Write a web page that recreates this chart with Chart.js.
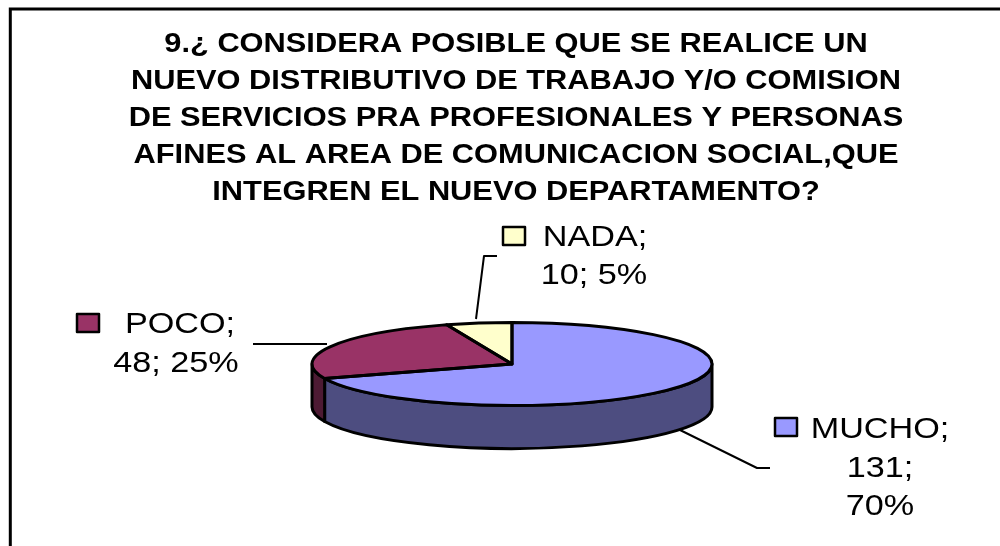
<!DOCTYPE html>
<html><head><meta charset="utf-8">
<style>html,body{margin:0;padding:0;background:#fff;overflow:hidden}canvas{display:block}</style>
<script src="https://cdn.jsdelivr.net/npm/chart.js@4"></script></head>
<body><div style="width:1000px;height:546px"><canvas id="c" width="1000" height="546"></canvas></div>
<script>
const titleLines = ["9.¿ CONSIDERA POSIBLE QUE SE REALICE UN","NUEVO DISTRIBUTIVO DE TRABAJO Y/O COMISION","DE SERVICIOS PRA PROFESIONALES Y PERSONAS","AFINES AL AREA DE COMUNICACION SOCIAL,QUE","INTEGREN EL NUEVO DEPARTAMENTO?"];
const categories = ["MUCHO","POCO","NADA"];
const values = [131,48,10];
const percents = [70,25,5];
const colors = ["#9999FF","#993366","#FFFFCC"];
const sideColors = ["#4D4D80","#4D1A33","#808066"];

const PIE = {cx:512, cy:364, rx:200, ry:41.5, depth:43};
const TITLE_SX = 1.12, LABEL_SX = 1.14;
const labelLayout = [
  {box:[775,418], lines:[[`${categories[0]};`,880,438],[`${values[0]};`,880,477],[`${percents[0]}%`,880,515]], leader:[[680,430],[757,468],[770,468]]},
  {box:[77,314], lines:[[`${categories[1]};`,180,333],[`${values[1]}; ${percents[1]}%`,176,372]], leader:[[253,344],[327,344]]},
  {box:[503,227], lines:[[`${categories[2]};`,595,246],[`${values[2]}; ${percents[2]}%`,594,284]], leader:[[497,256],[484,256],[476,319]]}
];

const pie3d = {
  id:'pie3d',
  beforeDraw(chart){
    const c = chart.ctx;
    c.save();
    c.fillStyle='#fff'; c.fillRect(0,0,1000,546);
    c.strokeStyle='#000'; c.lineWidth=3;
    c.beginPath(); c.moveTo(10.3,546); c.lineTo(10.3,9); c.lineTo(1000,9); c.stroke();
    c.restore();
    c.save();
    c.translate(516-500*TITLE_SX,0); c.scale(TITLE_SX,1);
  },
  beforeDatasetsDraw(chart){
    const c = chart.ctx;
    c.restore();
    const arcs = chart.getDatasetMeta(0).data;
    const {cx,cy,rx,ry,depth} = PIE;
    c.save();
    c.lineWidth=3; c.strokeStyle='#000'; c.lineJoin='round';
    arcs.forEach((a,i)=>{
      const s = Math.max(a.startAngle,0), e = Math.min(a.endAngle,Math.PI);
      if(e<=s) return;
      c.beginPath();
      c.ellipse(cx,cy,rx,ry,0,s,e);
      c.ellipse(cx,cy+depth,rx,ry,0,e,s,true);
      c.closePath();
      c.fillStyle=sideColors[i];
      c.fill(); c.stroke();
    });
    c.restore();
    const a0 = arcs[0];
    c.save();
    c.translate(cx,cy); c.scale(rx/a0.outerRadius,ry/a0.outerRadius); c.translate(-a0.x,-a0.y);
  },
  afterDatasetsDraw(chart){
    const c = chart.ctx;
    c.restore();
    const arcs = chart.getDatasetMeta(0).data;
    const {cx,cy,rx,ry} = PIE;
    c.save();
    c.lineWidth=3; c.strokeStyle='#000'; c.lineJoin='round';
    arcs.forEach(a=>{
      c.beginPath(); c.moveTo(cx,cy);
      c.ellipse(cx,cy,rx,ry,0,a.startAngle,a.endAngle);
      c.closePath(); c.stroke();
    });
    labelLayout.forEach((L,i)=>{
      c.lineWidth=2; c.strokeStyle='#000';
      c.beginPath();
      L.leader.forEach((p,k)=>k?c.lineTo(p[0],p[1]):c.moveTo(p[0],p[1]));
      c.stroke();
      c.fillStyle=colors[i]; c.lineWidth=2.5;
      c.fillRect(L.box[0],L.box[1],22,18); c.strokeRect(L.box[0],L.box[1],22,18);
      c.fillStyle='#000'; c.font='30px "Liberation Sans"'; c.textAlign='center'; c.textBaseline='alphabetic';
      L.lines.forEach(([t,x,y])=>{
        c.save(); c.translate(x,y); c.scale(LABEL_SX,1); c.fillText(t,0,0); c.restore();
      });
    });
    c.restore();
  }
};

new Chart(document.getElementById('c'),{
  type:'pie',
  data:{labels:categories,datasets:[{data:values,backgroundColor:colors,borderWidth:0}]},
  options:{
    responsive:false,animation:false,
    layout:{padding:0},
    plugins:{
      legend:{display:false},tooltip:{enabled:false},
      title:{display:true,text:titleLines,color:'#000',font:{family:'"Liberation Sans"',size:27.5,weight:'bold',lineHeight:1.345},padding:{top:26,bottom:0}}
    }
  },
  plugins:[pie3d]
});
</script></body></html>
